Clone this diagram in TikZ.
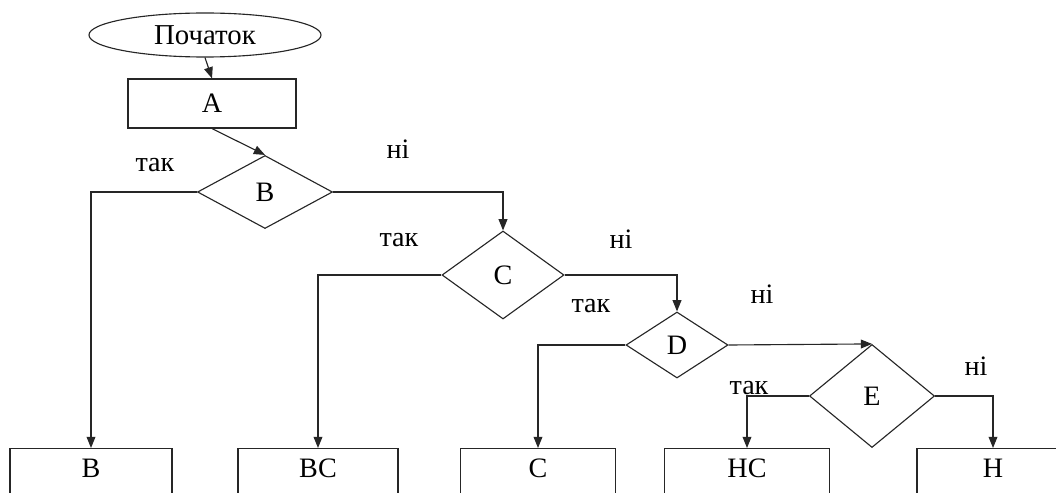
\documentclass[tikz,border=0pt]{standalone}
\usepackage{fontspec}
\setmainfont{Liberation Serif}
\usetikzlibrary{shapes.geometric, arrows.meta, positioning}

\begin{document}
\begin{tikzpicture}[x=0.025cm, y=-0.025cm, >={Triangle[length=0.28cm, width=0.22cm]},
    line width=0.8pt, draw=black!85, font=\fontsize{20}{22}\selectfont,
    block/.style={draw, rectangle, inner sep=0pt},
    cond/.style={draw, diamond, inner sep=0pt},
    answer/.style={inner sep=0pt},
    leaf/.style={draw, rectangle, inner xsep=0pt, inner ysep=0pt, text height=0.72cm, text depth=1.2cm, anchor=north}]
    \useasboundingbox (0,0) rectangle (1056,492);
    \clip (0,0) rectangle (1056,492);

    % Start and first block
    \node[draw, ellipse, inner sep=0pt, minimum width=5.8cm, minimum height=1.1cm, font=\fontsize{20.5}{22}\selectfont] (start) at (205,35) {Початок};
    \node[block, minimum width=4.2cm, minimum height=1.225cm] (A) at (212,103.5) {A};

    % Conditions
    \node[cond, minimum width=3.375cm, minimum height=1.825cm] (B) at (265,192) {B};
    \node[cond, minimum width=3.05cm, minimum height=2.2cm] (C) at (503,275) {C};
    \node[cond, minimum width=2.55cm, minimum height=1.65cm] (D) at (677,345) {D};
    \node[cond, minimum width=3.125cm, minimum height=2.575cm] (E) at (872,396) {E};

    % Results
    \node[leaf, minimum width=4.05cm] (resB) at (91,448) {B};
    \node[leaf, minimum width=4cm] (resBC) at (318,448) {BC};
    \node[leaf, minimum width=3.875cm] (resC) at (538,448) {C};
    \node[leaf, minimum width=4.125cm] (resHC) at (747,448) {HC};
    \node[leaf, minimum width=3.8cm] (resH) at (993,448) {H};

    % Branch labels
    \node[answer] (yesB) at (155,165) {так};
    \node[answer] (noB) at (398,149) {ні};
    \node[answer] (yesC) at (399,240) {так};
    \node[answer] (noC) at (621,239) {ні};
    \node[answer] (yesD) at (591,306) {так};
    \node[answer] (noD) at (762,294) {ні};
    \node[answer] (yesE) at (749,388) {так};
    \node[answer] (noE) at (976,366) {ні};

    % Connectors
    \draw[->] (start.south) -- (A.north);
    \draw[->] (A.south) -- (B.north);
    \draw[->] (B.west) -| (resB.north);
    \draw[->] (B.east) -| (C.north);
    \draw[->] (C.west) -| (resBC.north);
    \draw[->] (C.east) -| (D.north);
    \draw[->] (D.west) -| (resC.north);
    \draw[->] (D.east) -- (E.north);
    \draw[->] (E.west) -| (resHC.north);
    \draw[->] (E.east) -| (resH.north);
\end{tikzpicture}
\end{document}
